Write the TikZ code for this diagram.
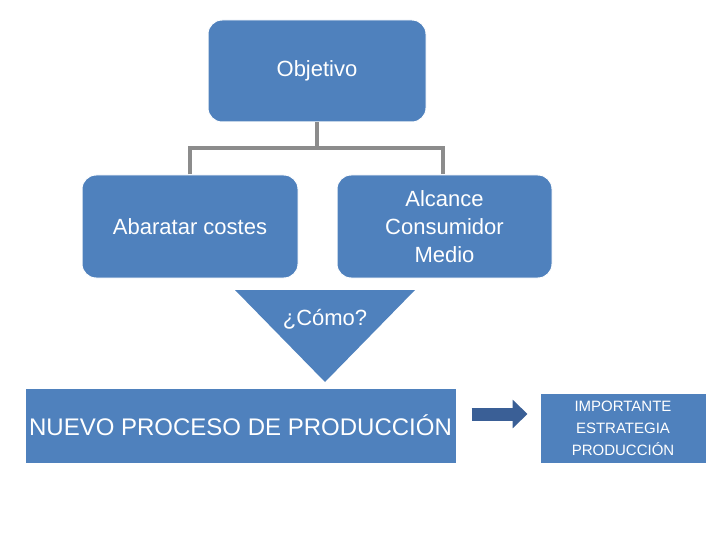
\documentclass[tikz,border=0pt]{standalone}
\usepackage{fontspec}
\setmainfont{Liberation Sans}
\usetikzlibrary{positioning,arrows.meta}
\definecolor{boxblue}{HTML}{4F81BD}
\definecolor{arrowblue}{HTML}{3A5F96}
\definecolor{linegray}{HTML}{8C8C8C}

\begin{document}
\begin{tikzpicture}[x=1pt,y=-1pt,>=latex,
  caja/.style={rectangle,rounded corners=14pt,fill=boxblue,draw=white,line width=1pt,
    text=white,align=center,font=\fontsize{22}{28}\selectfont},
  barra/.style={rectangle,fill=boxblue,draw=white,line width=1pt,text=white,align=center},
  rama/.style={draw=linegray,line width=4pt}]
\useasboundingbox (0,0) rectangle (720,540);
\path
(317,71)      node[caja,minimum width=218pt,minimum height=102pt] (obj) {Objetivo}
(190,226.5)   node[caja,minimum width=216pt,minimum height=103pt] (cost) {Abaratar costes}
(444.5,226.5) node[caja,minimum width=215pt,minimum height=103pt] (cons) {Alcance\\Consumidor\\Medio}
(240.5,425.5) node[barra,minimum width=431pt,minimum height=75pt,
                   font=\fontsize{24}{28}\selectfont] (proc) {NUEVO PROCESO DE PRODUCCIÓN}
(623,428)     node[barra,minimum width=166pt,minimum height=70pt,
                   font=\fontsize{15}{22}\selectfont] (estr) {IMPORTANTE\\ESTRATEGIA\\PRODUCCIÓN};

% arbol
\coordinate (mid) at (317,148);
\draw[rama] (obj.south) -- (mid);
\draw[rama] (cost.north -| 190,0) |- (mid) -| (cons.north -| 443,0);

% triangulo
\fill[boxblue] (235,290) -- (415,290) -- (325,382) -- cycle;
\node[text=white,font=\fontsize{22}{28}\selectfont] (como) at (325,319) {¿Cómo?};

\draw[arrowblue,line width=13pt,-{Triangle[length=15pt,width=28pt]},
      shorten <=15pt,shorten >=12pt] ([yshift=11.5pt]proc.east) -- ([yshift=14pt]estr.west);
\end{tikzpicture}
\end{document}
